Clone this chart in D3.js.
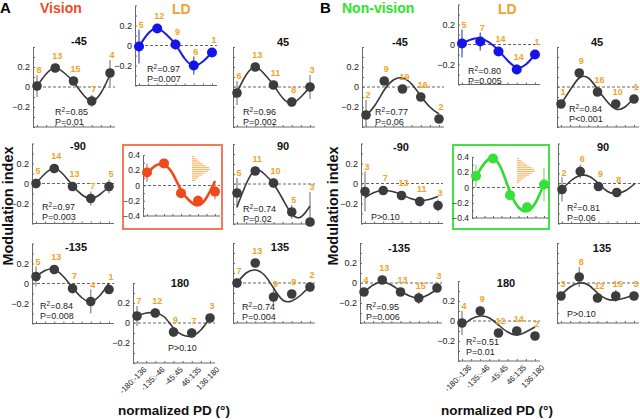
<!DOCTYPE html>
<html>
<head>
<meta charset="utf-8">
<script src="https://cdnjs.cloudflare.com/ajax/libs/d3/7.8.5/d3.min.js"></script>
<style>
body{margin:0;background:#fff}
svg{display:block;font-family:"Liberation Sans",Arial,sans-serif}
</style>
</head>
<body>
<svg id="fig" width="640" height="420"></svg>
<script>
// panel order: -45, LD, 45, -90, all, 90, -135, 180, 135
var panelNames = ["-45", "LD", "45", "-90", "all", "90", "-135", "180", "135"];
var binLabels = ["-180:-136", "-135:-46", "-45:45", "46:135", "136:180"];

// A : Vision
var visMean = [
  [0.01, 0.19, 0.06, -0.14, 0.14],
  [-0.01, 0.17, 0.01, -0.2, -0.07],
  [-0.06, 0.2, 0.02, -0.15, 0.0],
  [0.0, 0.15, -0.03, -0.15, -0.03],
  [0.17, 0.29, -0.1, -0.2, -0.08],
  [-0.09, 0.13, 0.01, -0.28, -0.38],
  [0.07, 0.14, -0.05, -0.18, -0.06],
  [0.07, 0.1, -0.09, -0.1, 0.05],
  [0.0, 0.2, -0.14, -0.11, -0.04]
];
var visErr = [
  [0.11, 0.03, 0.03, 0.06, 0.13],
  [0.17, 0.02, 0.05, 0.09, 0],
  [0.12, 0.04, 0.03, 0.05, 0.12],
  [0.05, 0.03, 0.02, 0.07, 0.07],
  [0.12, 0.04, 0.05, 0.07, 0.1],
  [0.15, 0.03, 0.05, 0.07, 0.3],
  [0.1, 0.03, 0.05, 0.12, 0.02],
  [0.1, 0.05, 0.05, 0.05, 0],
  [0.05, 0.04, 0.08, 0.02, 0.05]
];
var visN = [[8, 13, 15, 7, 4], [5, 12, 9, 6, 1], [6, 13, 11, 8, 3], [5, 14, 13, 7, 5], null,
  [5, 11, 10, 5, 3], [5, 13, 7, 4, 1], [7, 12, 9, 7, 3], [7, 13, 9, 9, 2]];
// fitted curve read every half bin
var visFit = [
  [0.01, 0.13, 0.19, 0.14, 0.05, -0.07, -0.14, -0.06, 0.12],
  [-0.01, 0.12, 0.17, 0.11, 0.01, -0.13, -0.2, -0.16, -0.07],
  [-0.05, 0.12, 0.2, 0.13, 0.02, -0.11, -0.16, -0.1, 0.0],
  [0.0, 0.1, 0.15, 0.09, -0.02, -0.11, -0.15, -0.11, -0.03],
  [0.15, 0.26, 0.27, 0.16, -0.06, -0.2, -0.26, -0.16, 0.06],
  [-0.23, 0.0, 0.14, 0.1, 0.0, -0.15, -0.3, -0.33, -0.22],
  [0.07, 0.13, 0.14, 0.07, -0.04, -0.14, -0.18, -0.12, 0.0],
  [0.07, 0.1, 0.1, 0.06, -0.05, -0.12, -0.13, -0.07, 0.05],
  [0.0, 0.1, 0.13, 0.08, -0.05, -0.17, -0.18, -0.12, -0.03]
];
var visR2 = [0.85, 0.97, 0.96, 0.97, null, 0.74, 0.84, null, 0.74];
var visP = ["P=0.01", "P=0.007", "P=0.002", "P=0.003", null, "P=0.02", "P=0.008", "P>0.10", "P=0.004"];
var visHist = [2, 4, 6, 8, 11, 14, 17, 18, 16, 13, 10, 7, 5, 3];

// B : Non-vision
var nonMean = [
  [-0.28, 0.06, -0.02, -0.1, -0.32],
  [0.01, 0.03, -0.07, -0.25, -0.1],
  [-0.17, 0.14, -0.05, -0.17, -0.12],
  [-0.08, -0.07, -0.12, -0.18, -0.22],
  [0.15, 0.38, -0.1, -0.26, 0.04],
  [-0.06, 0.12, -0.03, -0.09],
  [-0.09, 0.03, -0.09, -0.15, -0.05],
  [-0.02, 0.1, -0.12, -0.1, -0.15],
  [-0.13, 0.06, -0.15, -0.13, -0.13]
];
var nonErr = [
  [0.15, 0.03, 0.02, 0.02, 0],
  [0.14, 0.09, 0.02, 0.05, 0],
  [0.02, 0.04, 0.02, 0.04, 0.02],
  [0.2, 0.02, 0.02, 0.05, 0.06],
  [0.15, 0.02, 0.05, 0.03, 0.22],
  [0.12, 0.07, 0.04, 0.02],
  [0.02, 0.03, 0.02, 0.06, 0.02],
  [0.12, 0.05, 0, 0.04, 0.02],
  [0.02, 0.1, 0, 0.06, 0]
];
var nonN = [[2, 9, 19, 16, 2], [5, 7, 14, 14, 1], [1, 9, 16, 10, 1], [3, 7, 13, 11, 3], null,
  [2, 6, 9, 8], [4, 13, 13, 15, 3], [4, 9, 12, 14, 2], [3, 8, 12, 15, 3]];
var nonFit = [
  [-0.29, -0.18, -0.03, 0.07, 0.09, 0.03, -0.09, -0.2, -0.27],
  [0.01, 0.05, 0.06, 0.02, -0.06, -0.16, -0.23, -0.2, -0.1],
  [-0.17, -0.03, 0.09, 0.09, -0.02, -0.14, -0.22, -0.2, -0.11],
  [-0.14, -0.09, -0.07, -0.08, -0.11, -0.15, -0.17, -0.16, -0.13],
  [0.14, 0.32, 0.38, 0.24, -0.06, -0.26, -0.31, -0.2, 0.05],
  [-0.06, 0.03, 0.08, 0.07, 0.0, -0.08, -0.1, -0.07, 0.0],
  [-0.09, -0.02, 0.01, -0.02, -0.08, -0.13, -0.15, -0.12, -0.06],
  [-0.05, 0.02, 0.05, 0.03, -0.04, -0.11, -0.14, -0.11, -0.06],
  [-0.12, -0.04, 0.0, -0.02, -0.1, -0.16, -0.17, -0.15, -0.12]
];
var nonR2 = [0.77, 0.80, 0.84, null, null, 0.81, 0.95, 0.51, null];
var nonP = ["P=0.06", "P=0.005", "P<0.001", "P>0.10", null, "P=0.06", "P=0.006", "P=0.01", "P>0.10"];
var nonHist = [2, 4, 6, 9, 12, 15, 17, 18, 15, 12, 9, 6, 4, 2];

// layout of the panels
var slotsA = [
  {ax: 33, top: 47, tx: 79, ty: 45, sx: 55, sy: 115, lab: true},
  {ax: 135, top: 5.5, sx: 147, sy: 72, lab: true},
  {ax: 233, top: 47, tx: 283, ty: 46, sx: 243, sy: 115},
  {ax: 32, top: 143.5, tx: 78, ty: 150, sx: 42, sy: 210, lab: true},
  {ax: 143, top: 155, box: [123, 145, 99, 84], hx: 192, hy: 156},
  {ax: 233, top: 144, tx: 283, ty: 150, sx: 243, sy: 212},
  {ax: 32, top: 243.5, tx: 76, ty: 251, sx: 40, sy: 309, lab: true},
  {ax: 133, top: 283, tx: 180, ty: 287, sx: 168, sy: 351, lab: true, xl: true},
  {ax: 233, top: 243, tx: 280, ty: 251, sx: 242, sy: 310}
];
var slotsB = [
  {ax: 362, top: 47, tx: 400, ty: 46, sx: 375, sy: 115, lab: true},
  {ax: 458, top: 4.5, sx: 468, sy: 74, lab: true},
  {ax: 557, top: 47, tx: 597, ty: 46, sx: 569, sy: 112},
  {ax: 361, top: 143.5, tx: 401, ty: 151, sx: 371, sy: 220, lab: true},
  {ax: 472, top: 157, box: [453, 145, 96, 84], hx: 517, hy: 158},
  {ax: 558, top: 143.5, tx: 603, ty: 151, sx: 567, sy: 211},
  {ax: 360, top: 243, tx: 399, ty: 252, sx: 366, sy: 310, lab: true},
  {ax: 458, top: 281, tx: 506, ty: 287, sx: 466, sy: 345, lab: true, xl: true},
  {ax: 557, top: 243, tx: 602, ty: 252, sx: 567, sy: 317}
];

var svg = d3.select('#fig');
var ORANGE = '#f4a226';

function fmt(v){ return v === 0 ? '0' : d3.format('.1f')(v); }

function drawGroup(slots, means, errs, ns, fits, r2s, ps, hist, accent){
  slots.forEach(function(s, k){
    var g = svg.append('g');
    var all = k === 4, ld = k === 1;
    var step = all ? 17 : 18.25;
    var h = all ? 61 : 80;
    var col = all ? accent : (ld ? {dot: '#1414e8', line: '#1c1ce0', err: '#4a5ccf'} :
      {dot: '#3c3c3c', line: '#383838', err: '#8c8c8c'});
    var x = d3.scaleLinear().domain([0, 4]).range([s.ax + 4, s.ax + 4 + 4 * step]);
    var y = d3.scaleLinear().domain([-0.4, 0.4]).range([s.top + h, s.top]);
    var clampV = function(v){ return Math.max(-0.4, Math.min(0.4, v)); };
    var right = x(4) + 5;
    if (k === 5 && slots === slotsB) right = 640;

    if (s.box) {
      g.append('rect').attr('x', s.box[0]).attr('y', s.box[1])
        .attr('width', s.box[2]).attr('height', s.box[3])
        .attr('fill', 'none').attr('stroke', accent.box).attr('stroke-width', 2);
      var hs = d3.scaleLinear().domain([0, d3.max(hist)]).range([0, 18]);
      g.selectAll('.hb').data(hist).enter().append('rect')
        .attr('x', s.hx).attr('y', function(d, j){ return s.hy + j * 1.85; })
        .attr('width', function(d){ return hs(d); }).attr('height', 1)
        .attr('fill', '#f6b45c');
    }

    // axes
    var yMinor = d3.axisLeft(y).tickValues(d3.range(-4, 5).map(function(v){ return v / 10; }))
      .tickSize(-2).tickSizeOuter(0).tickFormat('');
    var ya = g.append('g').attr('transform', 'translate(' + s.ax + ',0)').call(yMinor);
    ya.selectAll('path,line').attr('stroke', '#6a6a6a');
    if (s.lab || all) {
      var vals = all ? [0.4, 0.2, 0, -0.2, -0.4] : [0.2, 0, -0.2];
      var yl = g.append('g').attr('transform', 'translate(' + s.ax + ',0)')
        .call(d3.axisLeft(y).tickValues(vals).tickSize(0).tickPadding(3).tickFormat(fmt));
      yl.select('.domain').remove();
      yl.selectAll('text').attr('font-size', all ? 8.5 : 9).attr('fill', '#222')
        .attr('font-family', '"Liberation Sans",Arial,sans-serif');
    }
    var xa = g.append('g').attr('transform', 'translate(0,' + y(-0.4) + ')')
      .call(d3.axisBottom(x).tickValues(d3.range(0, 4.01, 0.5)).tickSize(-2).tickSizeOuter(0).tickFormat(''));
    xa.select('.domain').remove();
    xa.selectAll('line').attr('stroke', '#6a6a6a');
    g.append('line').attr('x1', s.ax).attr('x2', all ? x(4) + 5 : right)
      .attr('y1', y(-0.4)).attr('y2', y(-0.4)).attr('stroke', '#6a6a6a');

    // zero line
    g.append('line').attr('x1', s.ax).attr('x2', right).attr('y1', y(0)).attr('y2', y(0))
      .attr('stroke', '#666').attr('stroke-dasharray', '3,2').attr('stroke-width', 1);

    var m = means[k], e = errs[k];
    // error bars
    g.selectAll('.eb').data(m).enter().append('line')
      .attr('x1', function(d, i){ return x(i); }).attr('x2', function(d, i){ return x(i); })
      .attr('y1', function(d, i){ return y(clampV(d - e[i])); })
      .attr('y2', function(d, i){ return y(clampV(d + e[i])); })
      .attr('stroke', col.err).attr('stroke-width', all ? 1.6 : 1.3);

    // fitted curve
    var line = d3.line().x(function(d, j){ return x(j / 2); }).y(function(d){ return y(d); })
      .curve(d3.curveNatural);
    g.append('path').datum(fits[k]).attr('d', line).attr('fill', 'none')
      .attr('stroke', col.line).attr('stroke-width', all ? 2.6 : (ld ? 2 : 1.6));

    g.selectAll('.pt').data(m).enter().append('circle')
      .attr('cx', function(d, i){ return x(i); }).attr('cy', function(d){ return y(d); })
      .attr('r', all || ld ? 5 : 4.8).attr('fill', col.dot);

    if (ns[k]) {
      g.selectAll('.nl').data(ns[k]).enter().append('text')
        .attr('x', function(d, i){ return x(i) + 2; })
        .attr('y', function(d, i){
          var yp = y(m[i]) - 9.5;
          if (e[i] > 0) yp = Math.min(yp, y(clampV(m[i] + e[i])) - 2);
          return yp;
        })
        .attr('text-anchor', 'middle').attr('font-size', 9).attr('font-weight', 'bold')
        .attr('fill', ORANGE).text(function(d){ return d; });
    }

    if (s.tx) {
      g.append('text').attr('x', s.tx).attr('y', s.ty).attr('text-anchor', 'middle')
        .attr('font-size', 11).attr('font-weight', 'bold').attr('fill', '#111').text(panelNames[k]);
    }

    var py = s.sy;
    if (r2s[k] != null) {
      var t = g.append('text').attr('x', s.sx).attr('y', s.sy).attr('font-size', 9).attr('fill', '#222');
      t.append('tspan').text('R');
      t.append('tspan').attr('font-size', 6.5).attr('dy', -3.5).text('2');
      t.append('tspan').attr('dy', 3.5).text('=' + r2s[k].toFixed(2));
      py = s.sy + 9.5;
    }
    if (ps[k]) {
      g.append('text').attr('x', s.sx).attr('y', py).attr('font-size', 9).attr('fill', '#222').text(ps[k]);
    }

    if (s.xl) {
      g.selectAll('.xl').data(binLabels).enter().append('text')
        .attr('transform', function(d, i){ return 'translate(' + (x(i) + 10) + ',' + (y(-0.4) + 7) + ') rotate(-45)'; })
        .attr('text-anchor', 'end').attr('font-size', 8).attr('fill', '#222').text(function(d){ return d; });
    }
  });
}

drawGroup(slotsA, visMean, visErr, visN, visFit, visR2, visP, visHist,
  {dot: '#f04a1a', line: '#f04a1a', err: '#f39276', box: '#f27a58'});
drawGroup(slotsB, nonMean, nonErr, nonN, nonFit, nonR2, nonP, nonHist,
  {dot: '#36e036', line: '#30dc30', err: '#9ce69c', box: '#44e044'});

// headings
function label(x, y, txt, size, color){
  return svg.append('text').attr('x', x).attr('y', y).attr('font-size', size)
    .attr('font-weight', 'bold').attr('fill', color).text(txt);
}
label(0, 13, 'A', 15, '#000');
label(40, 13, 'Vision', 14, '#f04a23');
label(172, 14, 'LD', 14, '#f5a02e');
label(320, 13, 'B', 15, '#000');
label(342, 13, 'Non-vision', 14, '#2be52b');
label(498, 14, 'LD', 14, '#f5a02e');

[[13, 206], [338, 206]].forEach(function(p){
  svg.append('text').attr('transform', 'translate(' + p[0] + ',' + p[1] + ') rotate(-90)')
    .attr('text-anchor', 'middle').attr('font-size', 14.5).attr('font-weight', 'bold')
    .attr('fill', '#111').text('Modulation index');
});
[[174, 415], [497, 415]].forEach(function(p){
  svg.append('text').attr('x', p[0]).attr('y', p[1]).attr('text-anchor', 'middle')
    .attr('font-size', 13.5).attr('font-weight', 'bold').attr('fill', '#111').text('normalized PD (°)');
});
</script>
</body>
</html>
